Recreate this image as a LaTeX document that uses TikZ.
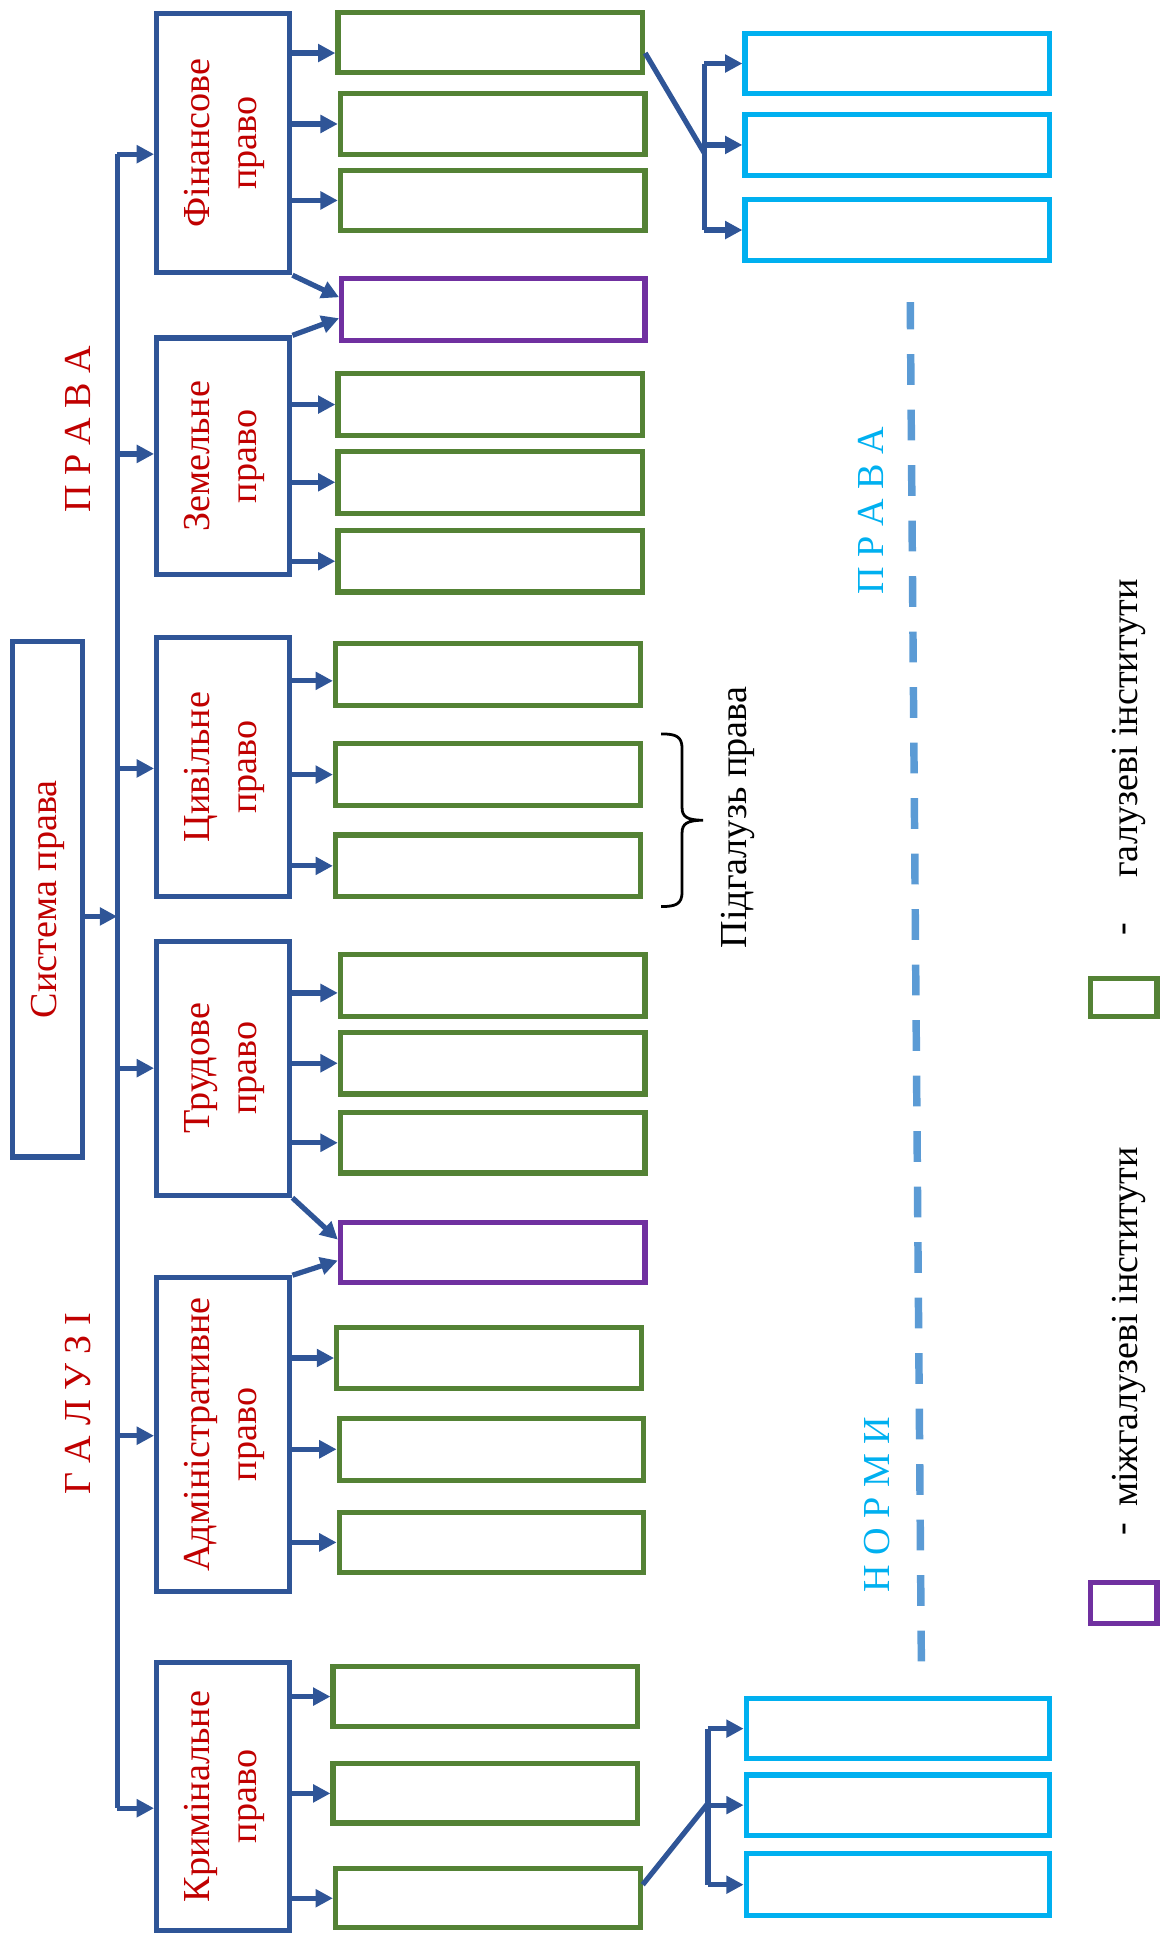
\documentclass[tikz,border=0pt]{standalone}
\usepackage{fontspec}
\setmainfont{Liberation Serif}
\usetikzlibrary{arrows.meta}
\definecolor{dblue}{RGB}{47,85,151}
\definecolor{dgreen}{RGB}{84,130,53}
\definecolor{dpurple}{RGB}{112,48,160}
\definecolor{cyanb}{RGB}{0,176,240}
\definecolor{dred}{RGB}{192,0,0}
\definecolor{dashblue}{RGB}{91,155,213}
\newcommand{\rbox}[7]{\node[#1, minimum width={(#5-#3)*0.025cm}, minimum height={(#6-#4)*0.025cm}] (#2) at ({(#3+#5)/2},{(#4+#6)/2}) {#7};}
\newcommand{\twol}[2]{\rotatebox{90}{\begin{tabular}{@{}c@{}}#1\\#2\end{tabular}}}
\tikzset{
  every node/.style={font=\fontsize{22}{27}\selectfont},
  basebox/.style={draw, line width=3pt, inner sep=0pt, fill=white},
  branch/.style={basebox, draw=dblue, text=dred},
  gbox/.style={basebox, draw=dgreen},
  pbox/.style={basebox, draw=dpurple},
  cbox/.style={basebox, draw=cyanb},
  conn/.style={draw=dblue, line width=3pt},
  arr/.style={conn, -{Triangle[length=10pt,width=10pt]}},
  vtext/.style={rotate=90, inner sep=0pt},
}
\begin{document}
\begin{tikzpicture}[x=0.025cm,y=-0.025cm]
\useasboundingbox (0,0) rectangle (941,1568);

% dashed line
\coordinate (dA) at (747,1347);
\coordinate (dB) at (738,245);
\draw[dashblue, line width=4.3pt, dash pattern=on 17.8pt off 14.2pt] (dA) -- (dB);

% main boxes
\rbox{branch}{sys}{10}{520}{67}{938}{\rotatebox{90}{Система права}}
\rbox{branch}{fin}{127}{11}{235}{221}{\twol{Фінансове}{право}}
\rbox{branch}{zem}{127}{274}{235}{466}{\twol{Земельне}{право}}
\rbox{branch}{civ}{127}{517}{235}{727}{\twol{Цивільне}{право}}
\rbox{branch}{tru}{127}{763}{235}{969}{\twol{Трудове}{право}}
\rbox{branch}{adm}{127}{1036}{235}{1290}{\twol{Адміністративне}{право}}
\rbox{branch}{kry}{127}{1348}{235}{1565}{\twol{Кримінальне}{право}}

% institutes
\rbox{gbox}{f1}{274}{10}{521}{59}{}
\rbox{gbox}{f2}{276}{76}{523}{125}{}
\rbox{gbox}{f3}{276}{138}{523}{187}{}
\rbox{pbox}{p1}{277}{226}{523}{276}{}
\rbox{gbox}{z1}{274}{303}{521}{353}{}
\rbox{gbox}{z2}{274}{366}{521}{416}{}
\rbox{gbox}{z3}{274}{430}{521}{480}{}
\rbox{gbox}{c1}{272}{522}{519}{572}{}
\rbox{gbox}{c2}{272}{603}{519}{653}{}
\rbox{gbox}{c3}{272}{677}{519}{727}{}
\rbox{gbox}{t1}{276}{774}{523}{824}{}
\rbox{gbox}{t2}{276}{837}{523}{887}{}
\rbox{gbox}{t3}{276}{902}{523}{951}{}
\rbox{pbox}{p2}{276}{991}{523}{1040}{}
\rbox{gbox}{a1}{273}{1076}{520}{1126}{}
\rbox{gbox}{a2}{275}{1150}{522}{1200}{}
\rbox{gbox}{a3}{275}{1226}{522}{1275}{}
\rbox{gbox}{k1}{270}{1351}{517}{1400}{}
\rbox{gbox}{k2}{270}{1430}{517}{1478}{}
\rbox{gbox}{k3}{272}{1515}{519}{1563}{}

% norms
\rbox{cbox}{b1}{604}{27}{851}{76}{}
\rbox{cbox}{b2}{604}{93}{851}{142}{}
\rbox{cbox}{b3}{604}{162}{851}{211}{}
\rbox{cbox}{b4}{605}{1377}{851}{1426}{}
\rbox{cbox}{b5}{605}{1439}{851}{1488}{}
\rbox{cbox}{b6}{605}{1503}{851}{1553}{}

% trunk
\coordinate (tt) at (95,125);
\coordinate (tb) at (95,1466);
\draw[conn] (tt) -- (tb);
\draw[arr] (sys.east |- 0,743) -- (95,743);
\draw[arr] (tt) -- (fin.west |- tt);
\draw[arr] (95,368) -- (zem.west |- 0,368);
\draw[arr] (95,623) -- (civ.west |- 0,623);
\draw[arr] (95,866) -- (tru.west |- 0,866);
\draw[arr] (95,1164) -- (adm.west |- 0,1164);
\draw[arr] (tb) -- (kry.west |- tb);

% branch -> institutes
\draw[arr] (fin.east |- 0,43) -- (f1.west |- 0,43);
\draw[arr] (fin.east |- f2.west) -- (f2.west);
\draw[arr] (fin.east |- f3.west) -- (f3.west);
\draw[arr] (zem.east |- z1.west) -- (z1.west);
\draw[arr] (zem.east |- z2.west) -- (z2.west);
\draw[arr] (zem.east |- z3.west) -- (z3.west);
\draw[arr] (civ.east |- 0,552) -- (c1.west |- 0,552);
\draw[arr] (civ.east |- c2.west) -- (c2.west);
\draw[arr] (civ.east |- c3.west) -- (c3.west);
\draw[arr] (tru.east |- 0,805) -- (t1.west |- 0,805);
\draw[arr] (tru.east |- t2.west) -- (t2.west);
\draw[arr] (tru.east |- t3.west) -- (t3.west);
\draw[arr] (adm.east |- a1.west) -- (a1.west);
\draw[arr] (adm.east |- a2.west) -- (a2.west);
\draw[arr] (adm.east |- a3.west) -- (a3.west);
\draw[arr] (kry.east |- k1.west) -- (k1.west);
\draw[arr] (kry.east |- k2.west) -- (k2.west);
\draw[arr] (kry.east |- k3.west) -- (k3.west);

% inter-branch institutes
\draw[arr] (fin.south east) -- (p1.west |- 0,241);
\draw[arr] (zem.north east) -- (p1.west |- 0,258);
\draw[arr] (tru.south east) -- (p2.west |- 0,1005);
\draw[arr] (adm.north east) -- (p2.west |- 0,1022);

% norms brackets
\coordinate (tj) at (571,124);
\draw[conn] (f1.east |- 0,43) -- (tj);
\draw[conn] (tj |- b1.west) -- (tj |- b3.west);
\draw[arr] (tj |- b1.west) -- (b1.west);
\draw[arr] (tj |- b2.west) -- (b2.west);
\draw[arr] (tj |- b3.west) -- (b3.west);
\coordinate (bj) at (574,1462);
\draw[conn] (k3.east |- 0,1528) -- (bj);
\draw[conn] (bj |- b4.west) -- (bj |- b6.west);
\draw[arr] (bj |- b4.west) -- (b4.west);
\draw[arr] (bj |- b5.west) -- (b5.west);
\draw[arr] (bj |- b6.west) -- (b6.west);

% brace
\coordinate (br1) at (536,595);
\coordinate (br2) at (536,735);
\coordinate (brtip) at (570,665);
\draw[line width=1.6pt] (br1) .. controls (548,595) and (553,597) .. (553,607)
  -- (553,655) .. controls (553,662) and (557,665) .. (brtip)
  .. controls (557,665) and (553,668) .. (553,675)
  -- (553,723) .. controls (553,733) and (548,735) .. (br2);
\node[vtext] (sub) at (598,663) {Підгалузь права};

% big labels
\node[vtext, text=dred] (lprava) at (63,348) {П Р А В А};
\node[vtext, text=dred] (lgaluzi) at (63,1138) {Г А Л У З І};
\node[vtext, text=cyanb] (nprava) at (706,414) {П Р А В А};
\node[vtext, text=cyanb] (nnormy) at (711,1220) {Н О Р М И};

% legend
\rbox{gbox}{lg}{884}{793}{938}{824}{}
\node[vtext] (lgd) at (915,753) {-};
\node[vtext, anchor=west] (lgt) at (915,712) {галузеві інститути};
\rbox{pbox}{lp}{884}{1283}{938}{1316}{}
\node[vtext] (lpd) at (915,1240) {-};
\node[vtext, anchor=west] (lpt) at (915,1222) {міжгалузеві інститути};
\end{tikzpicture}
\end{document}
